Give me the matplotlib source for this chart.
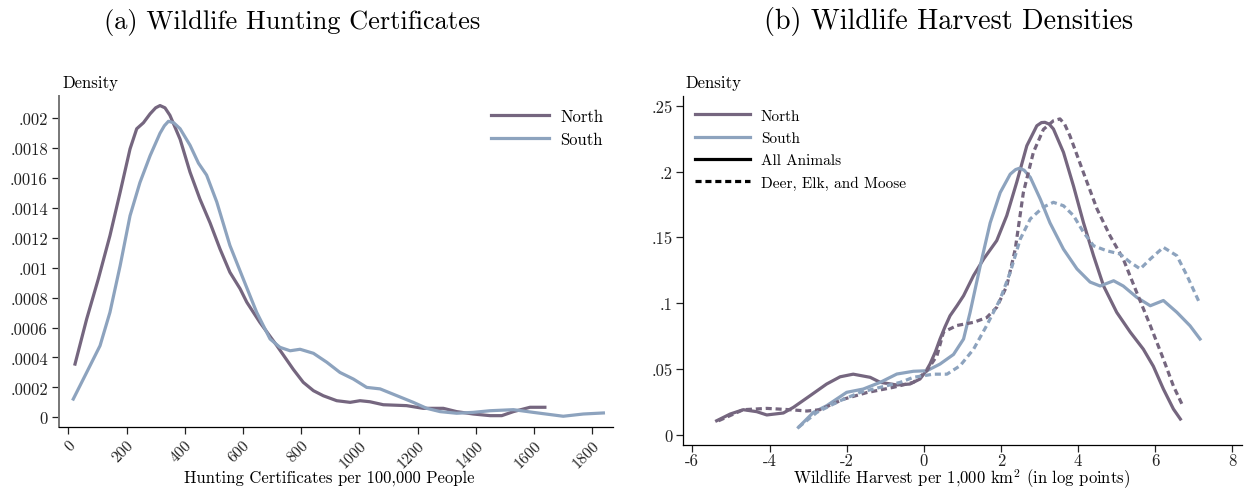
import matplotlib
matplotlib.use("Agg")
import matplotlib.pyplot as plt
from matplotlib.lines import Line2D

plt.rcParams['font.family'] = ['cmr10', 'DejaVu Serif']
plt.rcParams['mathtext.fontset'] = 'cm'
plt.rcParams['axes.formatter.use_mathtext'] = True

NORTH_C = '#75667f'
SOUTH_C = '#8da3be'

# ---------------- Panel (a): hunting certificates ----------------
cert_north_x = [23, 63, 103, 143, 178, 212, 235, 258, 281, 300, 315, 332, 349, 384, 418,
                452, 487, 521, 555, 590, 613, 658, 716, 773, 807, 842, 876, 922, 968,
                1002, 1036, 1082, 1162, 1219, 1288, 1334, 1391, 1449, 1489, 1529, 1586,
                1637]
cert_north_y = [0.000356, 0.000657, 0.000925, 0.001215, 0.001505, 0.001795, 0.00193,
                0.00197, 0.00203, 0.00207, 0.002085, 0.00207, 0.00202, 0.00186, 0.00164,
                0.00146, 0.0013, 0.001126, 0.00097, 0.00086, 0.00077, 0.000635, 0.00048,
                0.00032, 0.000234, 0.000178, 0.000144, 0.000111, 0.0001, 0.000111,
                0.000104, 0.000084, 0.000078, 0.00006, 0.00006, 0.000038, 0.000022,
                0.000011, 0.000011, 0.000038, 0.000067, 0.000067]

cert_south_x = [17, 63, 109, 143, 178, 212, 246, 281, 315, 330, 344, 362, 384, 418, 447,
                475, 510, 555, 601, 647, 693, 727, 762, 796, 842, 888, 933, 979, 1025,
                1071, 1128, 1185, 1231, 1277, 1334, 1391, 1449, 1529, 1597, 1700, 1769,
                1838]
cert_south_y = [0.000122, 0.0003, 0.000479, 0.000702, 0.001014, 0.001348, 0.00157,
                0.00175, 0.0019, 0.00195, 0.00198, 0.00197, 0.00193, 0.00182, 0.0017,
                0.00162, 0.00144, 0.00115, 0.000925, 0.000702, 0.000524, 0.000468,
                0.000445, 0.000455, 0.000428, 0.000368, 0.0003, 0.000256, 0.0002,
                0.00019, 0.000145, 0.0001, 0.00006, 0.000038, 0.000027, 0.000033,
                0.000044, 0.000051, 0.000033, 0.000007, 0.000022, 0.000029]

cert_xticks = [0, 200, 400, 600, 800, 1000, 1200, 1400, 1600, 1800]
cert_yticks = [0, 0.0002, 0.0004, 0.0006, 0.0008, 0.001, 0.0012, 0.0014, 0.0016, 0.0018, 0.002]
cert_yticklabels = ['0', '.0002', '.0004', '.0006', '.0008', '.001', '.0012', '.0014',
                    '.0016', '.0018', '.002']

# ---------------- Panel (b): harvest densities ----------------
all_north_x = [-5.37, -5.02, -4.68, -4.33, -4.07, -3.64, -3.38, -2.95, -2.52, -2.17,
               -1.83, -1.39, -1.13, -0.7, -0.36, -0.1, 0.05, 0.16, 0.3, 0.42, 0.55, 0.68,
               0.86, 1.03, 1.29, 1.55, 1.89, 2.15, 2.41, 2.67, 2.93, 3.05, 3.14, 3.25,
               3.36, 3.62, 3.88, 4.14, 4.4, 4.66, 5.0, 5.35, 5.69, 5.95, 6.21, 6.47, 6.65]
all_north_y = [0.0106, 0.0157, 0.019, 0.0175, 0.015, 0.0165, 0.0208, 0.0296, 0.0385,
               0.044, 0.046, 0.0436, 0.0398, 0.0378, 0.0385, 0.0423, 0.048, 0.0537, 0.063,
               0.0727, 0.082, 0.0904, 0.098, 0.1056, 0.121, 0.1335, 0.1475, 0.1665,
               0.192, 0.2196, 0.2348, 0.2372, 0.2374, 0.236, 0.2323, 0.2146, 0.189,
               0.161, 0.136, 0.113, 0.093, 0.078, 0.065, 0.052, 0.0347, 0.0195, 0.0119]

all_south_x = [-3.25, -2.86, -2.52, -2.0, -1.57, -1.13, -0.7, -0.27, 0.08, 0.42, 0.77,
               1.03, 1.2, 1.46, 1.72, 1.98, 2.24, 2.38, 2.48, 2.6, 2.76, 3.02, 3.27, 3.62,
               3.97, 4.31, 4.57, 4.92, 5.17, 5.52, 5.87, 6.21, 6.56, 6.9, 7.16]
all_south_y = [0.0056, 0.017, 0.022, 0.0322, 0.0347, 0.0398, 0.0461, 0.0482, 0.0486,
               0.0537, 0.061, 0.0727, 0.093, 0.128, 0.161, 0.184, 0.198, 0.2015, 0.2025,
               0.201, 0.1956, 0.179, 0.161, 0.141, 0.126, 0.116, 0.113, 0.117, 0.113,
               0.1044, 0.098, 0.102, 0.093, 0.0828, 0.0727]

dem_north_x = [-5.32, -4.68, -4.07, -3.47, -3.03, -2.69, -2.08, -1.48, -0.79, -0.27,
               0.08, 0.34, 0.51, 0.86, 1.29, 1.63, 1.89, 2.15, 2.37, 2.58, 2.84, 3.1,
               3.36, 3.53, 3.65, 3.79, 4.14, 4.49, 4.83, 5.17, 5.52, 5.87, 6.21, 6.47,
               6.69]
dem_north_y = [0.0106, 0.019, 0.02, 0.019, 0.018, 0.019, 0.027, 0.032, 0.036, 0.0398,
               0.0486, 0.06, 0.078, 0.083, 0.0854, 0.089, 0.0968, 0.113, 0.141, 0.184,
               0.2146, 0.232, 0.2386, 0.24, 0.236, 0.227, 0.199, 0.1715, 0.151, 0.1335,
               0.108, 0.083, 0.0575, 0.037, 0.0233]

dem_south_x = [-3.25, -2.77, -2.17, -1.65, -1.13, -0.61, -0.27, 0.25, 0.6, 0.94, 1.29,
               1.63, 1.98, 2.24, 2.5, 2.76, 3.1, 3.36, 3.62, 3.88, 4.14, 4.4, 4.74, 5.09,
               5.35, 5.61, 5.87, 6.21, 6.56, 6.82, 7.16]
dem_south_y = [0.0056, 0.017, 0.0258, 0.0322, 0.036, 0.0398, 0.0436, 0.046, 0.046,
               0.0524, 0.065, 0.083, 0.103, 0.1234, 0.1487, 0.164, 0.173, 0.1766, 0.174,
               0.1665, 0.1538, 0.1436, 0.1398, 0.1373, 0.131, 0.126, 0.1335, 0.1424,
               0.136, 0.121, 0.0993]

harv_xticks = [-6, -4, -2, 0, 2, 4, 6, 8]
harv_xticklabels = ['-6', '-4', '-2', '0', '2', '4', '6', '8']
harv_yticks = [0, 0.05, 0.1, 0.15, 0.2, 0.25]
harv_yticklabels = ['0', '.05', '.1', '.15', '.2', '.25']

W, H = 1248, 489
fig = plt.figure(figsize=(W / 100, H / 100), dpi=100)

LW = 2.3
FS = 12
DASH = (1.9, 1.2)

# --- left panel ---
ax1 = fig.add_axes([59 / W, 1 - 428 / H, (613 - 59) / W, (428 - 97) / H])
ax1.plot(cert_north_x, cert_north_y, color=NORTH_C, lw=LW, solid_joinstyle='round')
ax1.plot(cert_south_x, cert_south_y, color=SOUTH_C, lw=LW, solid_joinstyle='round')
ax1.set_xlim(-32, 1871)
ax1.set_ylim(-0.0000649, 0.002149)
ax1.set_xticks(cert_xticks)
ax1.set_xticklabels([str(v) for v in cert_xticks], rotation=45, ha='right',
                    va='top', rotation_mode='anchor', fontsize=FS * 0.95)
ax1.set_yticks(cert_yticks)
ax1.set_yticklabels(cert_yticklabels, fontsize=FS)
for s in ['top', 'right']:
    ax1.spines[s].set_visible(False)
ax1.spines['left'].set_color('#777777')
ax1.spines['left'].set_linewidth(1.4)
ax1.spines['bottom'].set_linewidth(0.9)
ax1.tick_params(axis='both', length=5, width=0.9, pad=3, colors='#222222',
                labelcolor='#222222')
ax1.legend(handles=[Line2D([], [], color=NORTH_C, lw=LW),
                    Line2D([], [], color=SOUTH_C, lw=LW)],
           labels=['North', 'South'], loc='upper left',
           bbox_to_anchor=((491 - 59) / (613 - 59), 1 - (110 - 97) / (428 - 97)),
           frameon=False, fontsize=FS, handlelength=3.5, handletextpad=0.65,
           labelspacing=0.45, borderpad=0, borderaxespad=0)

# --- right panel ---
ax2 = fig.add_axes([682.7 / W, 1 - 445.7 / H, (1241.7 - 682.7) / W, (445.7 - 97) / H])
ax2.plot(all_north_x, all_north_y, color=NORTH_C, lw=LW, solid_joinstyle='round')
ax2.plot(all_south_x, all_south_y, color=SOUTH_C, lw=LW, solid_joinstyle='round')
ax2.plot(dem_north_x, dem_north_y, color=NORTH_C, lw=LW, dashes=DASH)
ax2.plot(dem_south_x, dem_south_y, color=SOUTH_C, lw=LW, dashes=DASH)
ax2.set_xlim(-6.25, 8.24)
ax2.set_ylim(-0.0076, 0.2574)
ax2.set_xticks(harv_xticks)
ax2.set_xticklabels(harv_xticklabels, fontsize=FS)
ax2.set_yticks(harv_yticks)
ax2.set_yticklabels(harv_yticklabels, fontsize=FS)
for s in ['top', 'right']:
    ax2.spines[s].set_visible(False)
ax2.spines['left'].set_linewidth(0.9)
ax2.spines['bottom'].set_linewidth(0.9)
ax2.tick_params(axis='y', length=5, width=0.9, pad=2, colors='#222222', labelcolor='#222222')
ax2.tick_params(axis='x', length=5, width=0.9, pad=1, colors='#222222', labelcolor='#222222')
ax2.legend(handles=[Line2D([], [], color=NORTH_C, lw=LW),
                    Line2D([], [], color=SOUTH_C, lw=LW),
                    Line2D([], [], color='black', lw=LW),
                    Line2D([], [], color='black', lw=LW, dashes=DASH)],
           labels=['North', 'South', 'All Animals', 'Deer, Elk, and Moose'],
           loc='upper left',
           bbox_to_anchor=((695 - 682.7) / (1241.7 - 682.7), 1 - (110 - 97) / (445.7 - 97)),
           frameon=False, fontsize=FS * 0.92, handlelength=3.6, handletextpad=0.7,
           labelspacing=0.55, borderpad=0, borderaxespad=0)

# titles & labels
fig.text(292 / W, 1 - 22 / H, '(a) Wildlife Hunting Certificates', ha='center',
         va='center', fontsize=19)
fig.text(949 / W, 1 - 22 / H, '(b) Wildlife Harvest Densities', ha='center',
         va='center', fontsize=20.3)
fig.text(62 / W, 1 - 83 / H, 'Density', ha='left', va='center', fontsize=FS)
fig.text(685 / W, 1 - 83 / H, 'Density', ha='left', va='center', fontsize=FS)
fig.text(329 / W, 1 - 478 / H, 'Hunting Certificates per 100,000 People', ha='center',
         va='center', fontsize=FS)
fig.text(962 / W, 1 - 484 / H, r'Wildlife Harvest per 1,000 km$^2$ (in log points)',
         ha='center', va='baseline', fontsize=FS)

fig.savefig('out.png', dpi=100)
